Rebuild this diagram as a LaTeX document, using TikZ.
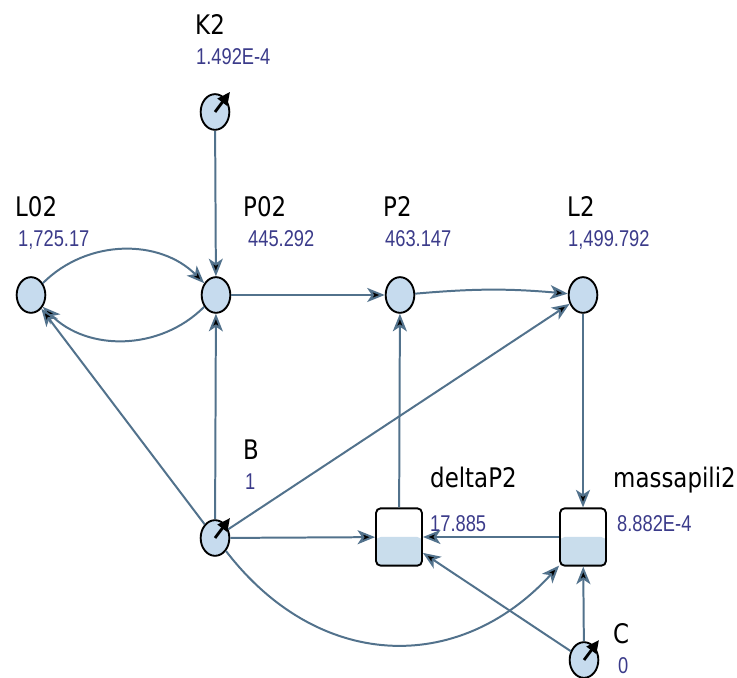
\documentclass[tikz,border=0pt]{standalone}
\usepackage{fontspec}
\setmainfont{DejaVu Sans}[FakeStretch=0.85]
\newfontfamily\valfont{Liberation Sans}[FakeStretch=0.8]
\usetikzlibrary{shapes.geometric,arrows.meta}

\definecolor{flowblue}{HTML}{52728C}
\definecolor{varfill}{HTML}{C6DBEE}
\definecolor{tankfill}{HTML}{C9DDEC}
\definecolor{valblue}{HTML}{3B3B8A}

\tikzstyle{v} = [ellipse, draw=black, line width=1.6pt, fill=varfill, minimum width=0.86cm, minimum height=1.07cm, inner sep=0pt]
\tikzstyle{t} = [rectangle, rounded corners=4pt, draw=black, line width=1.6pt, fill=white, minimum width=1.38cm, minimum height=1.72cm, inner sep=0pt,
  path picture={\fill[tankfill] (path picture bounding box.west) rectangle (path picture bounding box.south east);}]
\tikzstyle{lbl} = [anchor=base west, inner sep=0pt, text=black, font=\fontsize{23}{27}\selectfont]
\tikzstyle{amt} = [anchor=base west, inner sep=0pt, text=valblue, font=\valfont\fontsize{19.5}{22}\selectfont]
\tikzstyle{knob} = [black, line width=2.4pt, -{Triangle[length=11pt,width=10pt]}]
\tikzstyle{flow} = [-{Stealth[length=15pt,width=12pt,inset=4pt]}, draw=flowblue, line width=1.7pt]

\begin{document}
\begin{tikzpicture}[x=0.03cm,y=0.03cm]
\useasboundingbox (0,0) rectangle (737,677);

% stocks and variables
\node[v] (K2) at (215,565) {};
\node[v] (L02) at (31,382) {};
\node[v] (P02) at (216,382) {};
\node[v] (P2) at (400,382) {};
\node[v] (L2) at (583,382) {};
\node[v] (B) at (215,139) {};
\node[t] (deltaP2) at (399,140) {};
\node[t] (massapili2) at (583,140) {};
\node[v] (C) at (584,17) {};

\foreach \k in {K2,B,C}
  \draw[knob] (\k.center) -- ++(15,20);

% names and values
\node[lbl] (K2lbl) at (195,642) {K2};
\node[amt] (K2amt) at (196,612) {1.492E-4};
\node[lbl] (L02lbl) at (15,460) {L02};
\node[amt] (L02amt) at (18,430) {1,725.17};
\node[lbl] (P02lbl) at (243,460) {P02};
\node[amt] (P02amt) at (248,430) {445.292};
\node[lbl] (P2lbl) at (383,460) {P2};
\node[amt] (P2amt) at (385,430) {463.147};
\node[lbl] (L2lbl) at (567,460) {L2};
\node[amt] (L2amt) at (568,430) {1,499.792};
\node[lbl] (Blbl) at (243,217) {B};
\node[amt] (Bamt) at (245,187) {1};
\node[lbl] (deltaP2lbl) at (430,189) {deltaP2};
\node[amt] (deltaP2amt) at (430,145) {17.885};
\node[lbl] (massapili2lbl) at (613,189) {massapili2};
\node[amt] (massapili2amt) at (617,145) {8.882E-4};
\node[lbl] (Clbl) at (613,34) {C};
\node[amt] (Camt) at (618,4) {0};

\path[flow]
  (K2) edge (P02)
  (L02) edge[bend left=45] (P02)
  (P02) edge[bend left=45] (L02)
  (P02) edge (P2)
  (P2) edge[bend left=5] (L2)
  (B) edge (P02)
  (B) edge (L02)
  (B) edge (L2)
  (B) edge (deltaP2)
  (B) edge[bend right=50, looseness=1.15] (massapili2)
  (deltaP2) edge (P2)
  (L2) edge (massapili2)
  (massapili2) edge (deltaP2)
  (C) edge (deltaP2)
  (C) edge (massapili2)
  ;

\end{tikzpicture}
\end{document}
